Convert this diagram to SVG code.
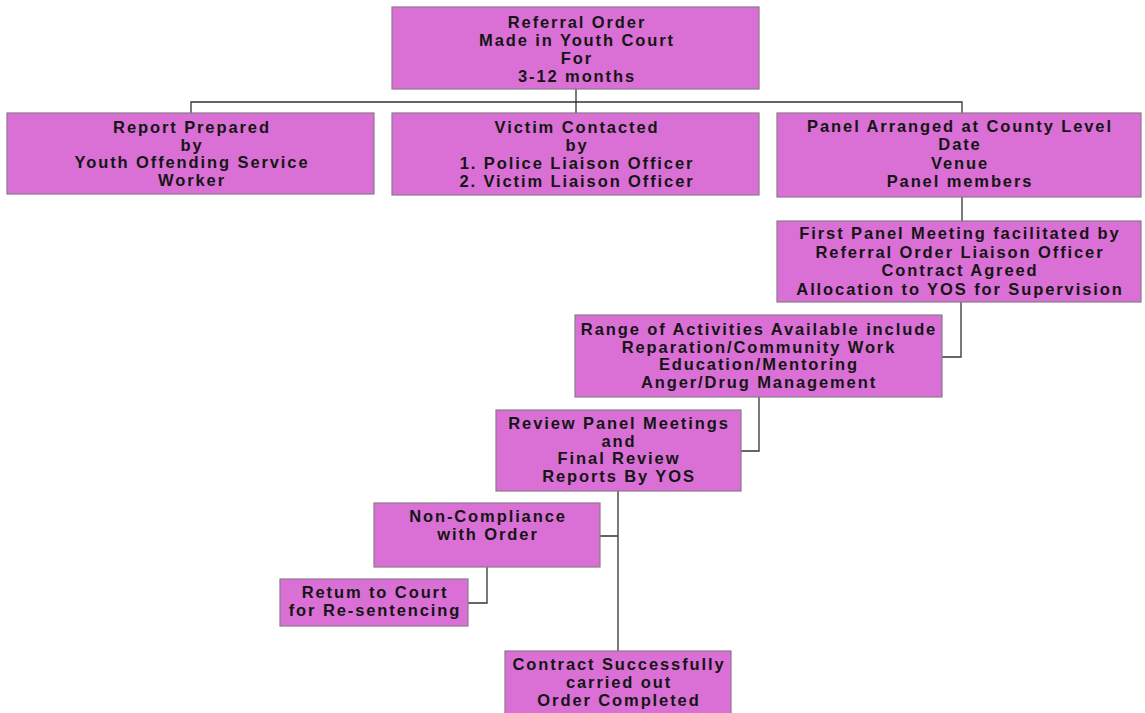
<svg xmlns="http://www.w3.org/2000/svg" width="1145" height="713" viewBox="0 0 1145 713">
<style>
.box{fill:#da70d6;stroke:#8a7a8a;stroke-width:1.2}
.t{font-family:"Liberation Sans",Arial,sans-serif;font-weight:bold;font-size:16.5px;letter-spacing:1.9px;fill:#151515;text-anchor:middle}
.c{fill:none;stroke:#333;stroke-width:1.3}
</style>
<rect width="1145" height="713" fill="#ffffff"/>
<g id="connectors">
<path class="c" d="M576,89 V102 M191,113 V102 H962 V113 M576,102 V113"/>
<path class="c" d="M962,197 V221"/>
<path class="c" d="M961,302 V357 H942"/>
<path class="c" d="M759,397 V451 H741"/>
<path class="c" d="M618,491 V651 M618,536 H600"/>
<path class="c" d="M487,567 V603 H468"/>
</g>
<g id="n1"><rect class="box" x="392" y="7" width="367" height="82"/>
<text class="t" x="577" y="28">Referral Order</text><text class="t" x="577" y="46">Made in Youth Court</text><text class="t" x="577" y="64">For</text><text class="t" x="577" y="82">3-12 months</text></g>
<g id="n2"><rect class="box" x="7" y="113" width="367" height="81"/>
<text class="t" x="192" y="133">Report Prepared</text><text class="t" x="192" y="151">by</text><text class="t" x="192" y="168">Youth Offending Service</text><text class="t" x="192" y="186">Worker</text></g>
<g id="n3"><rect class="box" x="392" y="113" width="367" height="82"/>
<text class="t" x="577" y="133">Victim Contacted</text><text class="t" x="577" y="151">by</text><text class="t" x="577" y="169">1. Police Liaison Officer</text><text class="t" x="577" y="187">2. Victim Liaison Officer</text></g>
<g id="n4"><rect class="box" x="777" y="113" width="364" height="84"/>
<text class="t" x="960" y="132">Panel Arranged at County Level</text><text class="t" x="960" y="150">Date</text><text class="t" x="960" y="169">Venue</text><text class="t" x="960" y="187">Panel members</text></g>
<g id="n5"><rect class="box" x="777" y="221" width="364" height="81"/>
<text class="t" x="960" y="239">First Panel Meeting facilitated by</text><text class="t" x="960" y="258">Referral Order Liaison Officer</text><text class="t" x="960" y="276">Contract Agreed</text><text class="t" x="960" y="295">Allocation to YOS for Supervision</text></g>
<g id="n6"><rect class="box" x="575" y="315" width="367" height="82"/>
<text class="t" x="759" y="335">Range of Activities Available include</text><text class="t" x="759" y="353">Reparation/Community Work</text><text class="t" x="759" y="370">Education/Mentoring</text><text class="t" x="759" y="388">Anger/Drug Management</text></g>
<g id="n7"><rect class="box" x="496" y="410" width="245" height="81"/>
<text class="t" x="619" y="429">Review Panel Meetings</text><text class="t" x="619" y="447">and</text><text class="t" x="619" y="464">Final Review</text><text class="t" x="619" y="482">Reports By YOS</text></g>
<g id="n8"><rect class="box" x="374" y="503" width="226" height="64"/>
<text class="t" x="488" y="522">Non-Compliance</text><text class="t" x="488" y="540">with Order</text></g>
<g id="n9"><rect class="box" x="280" y="579" width="188" height="47"/>
<text class="t" x="375" y="598">Retum to Court</text><text class="t" x="375" y="616">for Re-sentencing</text></g>
<g id="n10"><rect class="box" x="505" y="651" width="226" height="66"/>
<text class="t" x="619" y="670">Contract Successfully</text><text class="t" x="619" y="688">carried out</text><text class="t" x="619" y="706">Order Completed</text></g>
</svg>
